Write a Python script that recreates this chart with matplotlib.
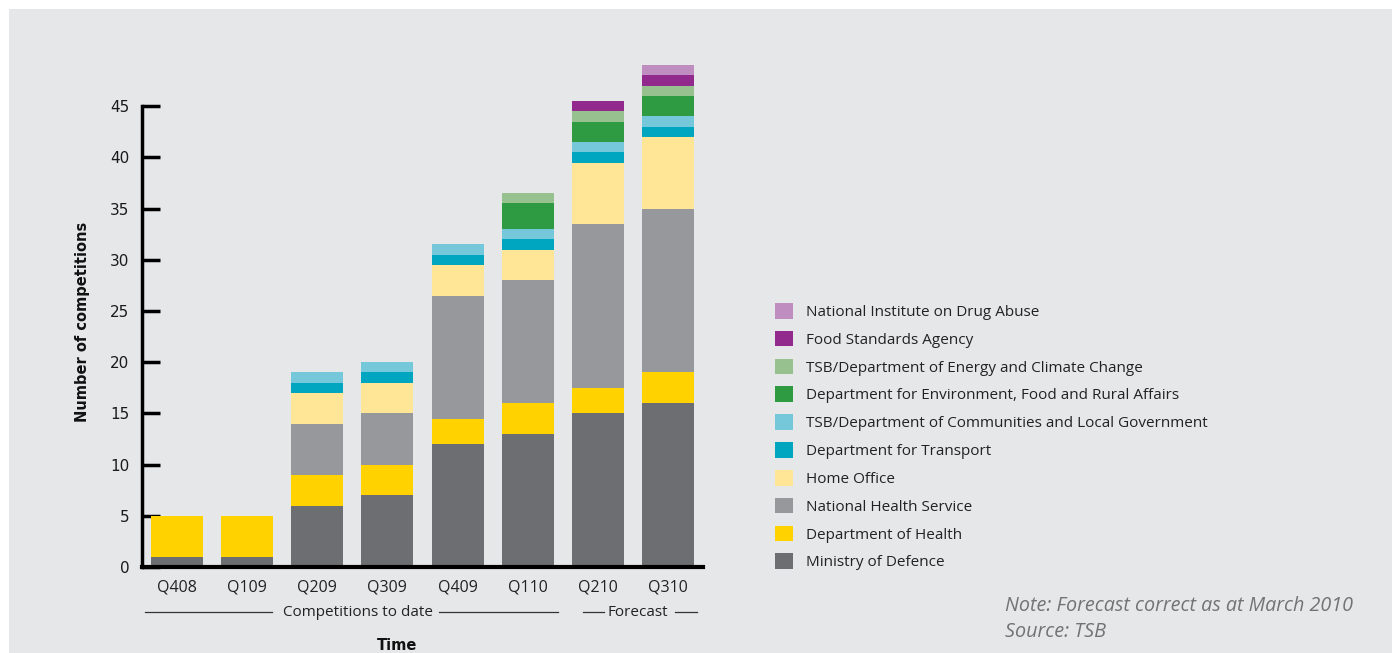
import matplotlib
matplotlib.use('Agg')
import matplotlib.pyplot as plt
import numpy as np
from matplotlib.patches import Patch

# data
quarters = ['Q408', 'Q109', 'Q209', 'Q309', 'Q409', 'Q110', 'Q210', 'Q310']
depts = ['Ministry of Defence', 'Department of Health', 'National Health Service',
         'Home Office', 'Department for Transport',
         'TSB/Department of Communities and Local Government',
         'Department for Environment, Food and Rural Affairs',
         'TSB/Department of Energy and Climate Change',
         'Food Standards Agency', 'National Institute on Drug Abuse']
mod = [1, 1, 6, 7, 12, 13, 15, 16]
doh = [4, 4, 3, 3, 2.5, 3, 2.5, 3]
nhs = [0, 0, 5, 5, 12, 12, 16, 16]
home = [0, 0, 3, 3, 3, 3, 6, 7]
dft = [0, 0, 1, 1, 1, 1, 1, 1]
dclg = [0, 0, 1, 1, 1, 1, 1, 1]
defra = [0, 0, 0, 0, 0, 2.5, 2, 2]
decc = [0, 0, 0, 0, 0, 1, 1, 1]
fsa = [0, 0, 0, 0, 0, 0, 1, 1]
nida = [0, 0, 0, 0, 0, 0, 0, 1]
series = [mod, doh, nhs, home, dft, dclg, defra, decc, fsa, nida]
colors = ['#6d6e71', '#ffd200', '#97989c', '#ffe696', '#00a5c0',
          '#74c8d9', '#2e9a41', '#97c28f', '#922a8e', '#bf8dc0']

bg = '#e6e7e9'
W, H = 1395, 653
fig = plt.figure(figsize=(W/100, H/100), dpi=100, facecolor='white')
# grey panel
fig.patches.append(plt.Rectangle((9/W, 0), (1392-9)/W, 1-9/H, transform=fig.transFigure,
                                 facecolor=bg, edgecolor='none', zorder=-10))

ax = fig.add_axes([142/W, 1-567/H, (703-142)/W, 512/H])
ax.set_facecolor('none')

x = np.arange(len(quarters))
bottom = np.zeros(len(quarters))
for vals, c in zip(series, colors):
    v = np.array(vals, dtype=float)
    ax.bar(x, v, 0.74, bottom=bottom, color=c, linewidth=0, zorder=2)
    bottom += v

ax.set_xlim(-0.5, 7.5)
ax.set_ylim(0, 50)
for s in ['top', 'right']:
    ax.spines[s].set_visible(False)
ax.spines['left'].set_bounds(0, 45)
ax.spines['left'].set_linewidth(2.5)
ax.spines['bottom'].set_linewidth(3)
ax.spines['bottom'].set_zorder(3)
ax.set_yticks(range(0, 46, 5))
ax.tick_params(axis='y', direction='in', length=13, width=2.5, pad=9,
               labelsize=11, labelcolor='#1a1a1a')
ax.set_xticks(x)
ax.set_xticklabels(quarters, fontfamily='Open Sans', fontsize=11.5, color='#222222')
ax.tick_params(axis='x', length=0, pad=9)

# period annotations
tr = ax.get_xaxis_transform()
ly = -0.088
for x0, x1 in [(-0.457, 1.357), (3.74, 5.43), (5.79, 6.09), (7.1, 7.41)]:
    ax.plot([x0, x1], [ly, ly], color='#333333', lw=0.9, transform=tr, clip_on=False)
ax.text(2.58, ly, 'Competitions to date', transform=tr, ha='center', va='center',
        fontfamily='Open Sans', fontsize=11, color='#222222')
ax.text(6.57, ly, 'Forecast', transform=tr, ha='center', va='center',
        fontfamily='Open Sans', fontsize=11, color='#222222')

fig.text(397/W, 1-645/H, 'Time', ha='center', va='center', fontsize=10.5,
         fontweight='bold', color='#111111')
fig.text(82/W, 1-322/H, 'Number of competitions', ha='center', va='center',
         rotation=90, fontsize=10.5, fontweight='bold', color='#111111')

handles = [Patch(facecolor=c, edgecolor='none') for c in colors][::-1]
leg = fig.legend(handles, depts[::-1], loc='upper left',
                 bbox_to_anchor=(775/W, 1-303/H), frameon=False,
                 borderpad=0, borderaxespad=0, handlelength=1.2, handleheight=1.2,
                 handletextpad=0.8, labelspacing=0.71,
                 prop={'family': 'Open Sans', 'size': 11})
for t in leg.get_texts():
    t.set_color('#222222')

fig.text(1005/W, 1-606/H, 'Note: Forecast correct as at March 2010', ha='left',
         va='center', fontfamily='Open Sans', fontstyle='italic', fontsize=14.2,
         color='#737373')
fig.text(1005/W, 1-632/H, 'Source: TSB', ha='left', va='center',
         fontfamily='Open Sans', fontstyle='italic', fontsize=14.2, color='#737373')

fig.savefig('out.png', dpi=100, facecolor='white')
